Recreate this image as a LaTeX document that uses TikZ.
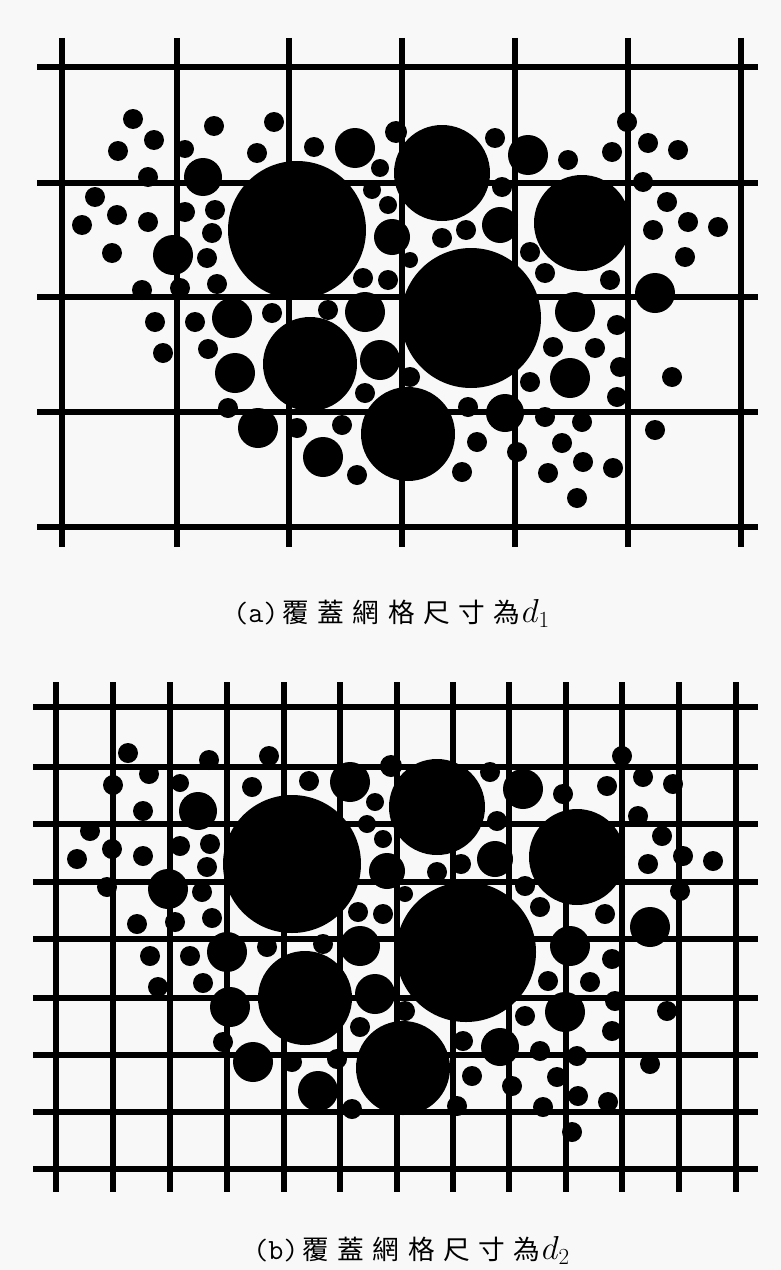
\documentclass[tikz,border=0pt]{standalone}
\usepackage{fontspec}
\newfontfamily\cjk[LetterSpace=32]{Noto Sans CJK TC}
\definecolor{paperfill}{HTML}{F8F8F8}
\definecolor{inkblack}{HTML}{000000}
\tikzset{
  gridline/.style={draw=inkblack, line width=4.4pt, line cap=butt},
  finegrid/.style={gridline, line width=3.8pt},
  particle/.style={fill=inkblack},
  caption/.style={anchor=west, inner sep=0pt, font=\fontsize{20}{23}\selectfont}
}
% aggregate particles, x/y/radius in pixels of panel (a)
\newcommand\particlelist{%
  133/119/10, 154/140/10, 118/151/10, 185/149/9, 214/126/10, 274/122/10,
  257/153/10, 314/147/10, 355/148/20, 396/132/11, 380/168/9, 372/190/9,
  388/205/9, 148/177/10, 203/177/19, 95/197/10, 117/215/10, 148/222/10,
  82/225/10, 112/253/10, 185/212/10, 215/210/10, 212/233/10, 173/255/20,
  207/258/10, 297/230/69, 392/237/18, 363/278/10, 388/280/10, 410/260/8,
  142/290/10, 180/288/10, 217/284/10, 442/173/48, 495/138/10, 528/155/20,
  568/160/10, 627/122/10, 612/152/10, 648/143/10, 678/150/10, 643/182/10,
  502/187/10, 442/238/10, 466/230/10, 500/225/18, 530/252/10, 545/273/10,
  582/223/48, 667/202/10, 688/222/10, 718/227/10, 653/230/10, 685/257/10,
  610/280/10, 655/293/20, 471/318/70, 155/322/10, 195/322/10, 232/318/20,
  272/313/10, 328/310/10, 365/312/20, 163/353/10, 208/349/10, 235/373/20,
  310/364/47, 380/360/20, 365/393/10, 228/408/10, 258/428/20, 297/428/10,
  342/425/10, 323/457/20, 357/475/10, 408/434/47, 410/377/10, 575/312/20,
  617/325/10, 553/347/10, 595/348/10, 570/378/20, 530/382/10, 620/367/10,
  617/397/10, 672/377/10, 468/407/10, 505/413/19, 545/417/10, 582/422/10,
  477/442/10, 517/452/10, 562/443/10, 583/462/10, 462/472/10, 548/473/10,
  613/468/10, 577/498/10, 655/430/10}
\newcommand\capletter[1]{{\ttfamily\fontsize{22}{24}\selectfont(#1)}\hspace{3pt}}
\newcommand\capsize[1]{\hspace{1pt}{\fontsize{27}{28}\selectfont$#1$}}

\begin{document}
\begin{tikzpicture}[x=0.75pt, y=-0.75pt]
\fill[paperfill] (0,0) rectangle (781,1270);
\useasboundingbox (0,0) rectangle (781,1270);

% (a) coarse grid
\foreach \gx in {62,177,289,402,515,628,741}
  \draw[gridline] (\gx,38) -- (\gx,547);
\foreach \gy in {67,183,297,412,527}
  \draw[gridline] (37,\gy) -- (758,\gy);
\foreach \px/\py/\pr in \particlelist
  \fill[particle] (\px,\py) circle[radius=\pr];

\node[caption] (capa) at (233,613) {\capletter{a}{\cjk 覆蓋網格尺寸為}\capsize{d_1}};

% (b) fine grid
\foreach \gx in {56,113,170,227,284,340,397,453,509,566,622,679,736}
  \draw[finegrid] (\gx,682) -- (\gx,1192);
\foreach \gy in {707,767,824,882,939,998,1055,1112,1169}
  \draw[finegrid] (33,\gy) -- (758,\gy);
\begin{scope}[shift={(-5,634)}]
  \foreach \px/\py/\pr in \particlelist
    \fill[particle] (\px,\py) circle[radius=\pr];
\end{scope}

\node[caption] (capb) at (253,1250) {\capletter{b}{\cjk 覆蓋網格尺寸為}\capsize{d_2}};

\end{tikzpicture}
\end{document}
